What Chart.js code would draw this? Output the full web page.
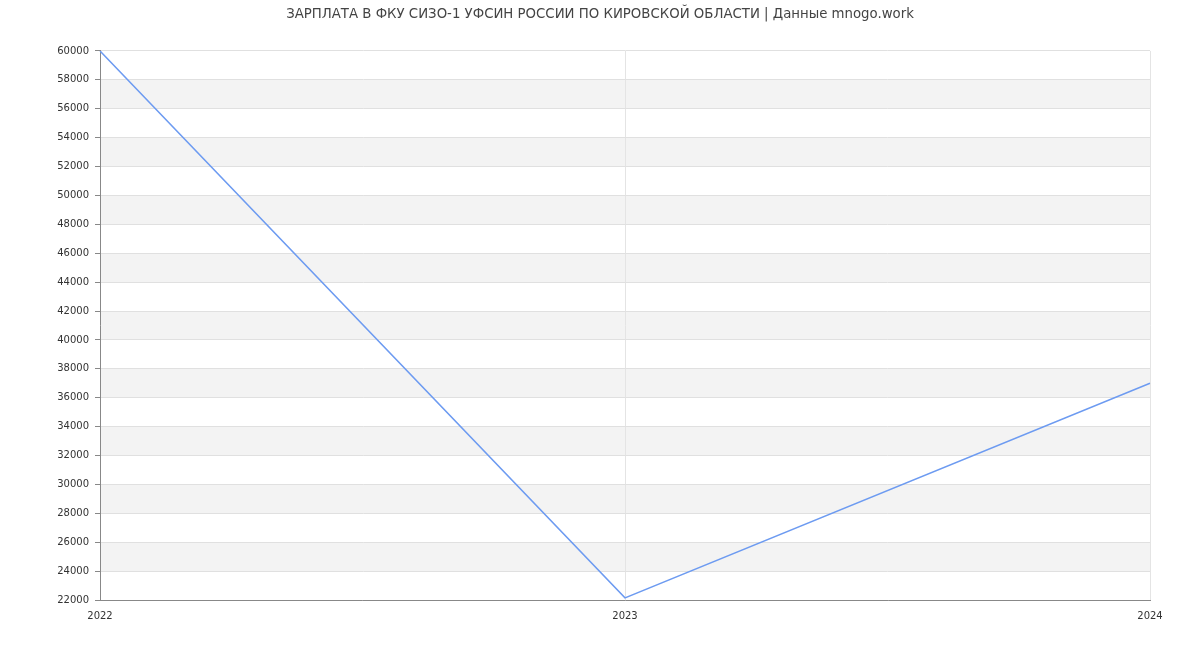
<!DOCTYPE html>
<html>
<head>
<meta charset="utf-8">
<script src="https://cdn.jsdelivr.net/npm/chart.js@4/dist/chart.umd.min.js"></script>
<style>
html,body{margin:0;padding:0;background:#fff;}
#wrap{width:1200px;height:650px;}
</style>
</head>
<body>
<div id="wrap"><canvas id="c" width="1200" height="650"></canvas></div>
<script>
const titleText = 'ЗАРПЛАТА В ФКУ СИЗО-1 УФСИН РОССИИ ПО КИРОВСКОЙ ОБЛАСТИ | Данные mnogo.work';
const categories = ['2022', '2023', '2024'];
const salaryValues = [60000, 22150, 37000];
const yMin = 22000;
const yMax = 60000;
const yStep = 2000;

const bandPlugin = {
  id: 'bands',
  beforeDraw(chart) {
    const ctx = chart.ctx;
    const y = chart.scales.y;
    const area = chart.chartArea;
    ctx.save();
    ctx.fillStyle = '#f3f3f3';
    for (let v = yMin + yStep; v < yMax; v += 2 * yStep) {
      const top = y.getPixelForValue(v + yStep);
      const bot = y.getPixelForValue(v);
      ctx.fillRect(area.left, top, area.right - area.left, bot - top);
    }
    ctx.restore();
  }
};

Chart.defaults.font.family = '"DejaVu Sans", sans-serif';

new Chart(document.getElementById('c'), {
  type: 'line',
  data: {
    labels: categories,
    datasets: [{
      data: salaryValues,
      borderColor: '#6d9bf1',
      borderWidth: 1.5,
      pointRadius: 0,
      pointHoverRadius: 0,
      tension: 0,
      fill: false
    }]
  },
  options: {
    responsive: false,
    animation: false,
    events: [],
    layout: { padding: { left: 0, right: 0, top: 0, bottom: 0 } },
    plugins: {
      legend: { display: false },
      tooltip: { enabled: false },
      title: {
        display: true,
        text: titleText,
        color: '#444',
        font: { size: 13.3, weight: 'normal' },
        padding: { top: 7, bottom: 28 }
      }
    },
    scales: {
      x: {
        offset: false,
        grid: { color: '#e4e4e4', drawTicks: false, lineWidth: 1 },
        border: { color: '#888', width: 1 },
        ticks: { color: '#333', font: { size: 10 }, padding: 10, maxRotation: 0, autoSkip: false },
        afterFit(scale) { scale.height = 50; }
      },
      y: {
        min: yMin,
        max: yMax,
        grid: { color: '#e0e0e0', lineWidth: 1, tickLength: 5, tickColor: '#888' },
        border: { color: '#888', width: 1 },
        ticks: { stepSize: yStep, color: '#333', font: { size: 10 }, padding: 6,
          callback: (v) => String(v) },
        afterFit(scale) { scale.width = 100; }
      },
      yRight: {
        position: 'right',
        min: yMin,
        max: yMax,
        grid: { display: false },
        border: { display: false },
        ticks: { display: false },
        afterFit(scale) { scale.width = 50; }
      }
    }
  },
  plugins: [bandPlugin]
});
</script>
</body>
</html>
